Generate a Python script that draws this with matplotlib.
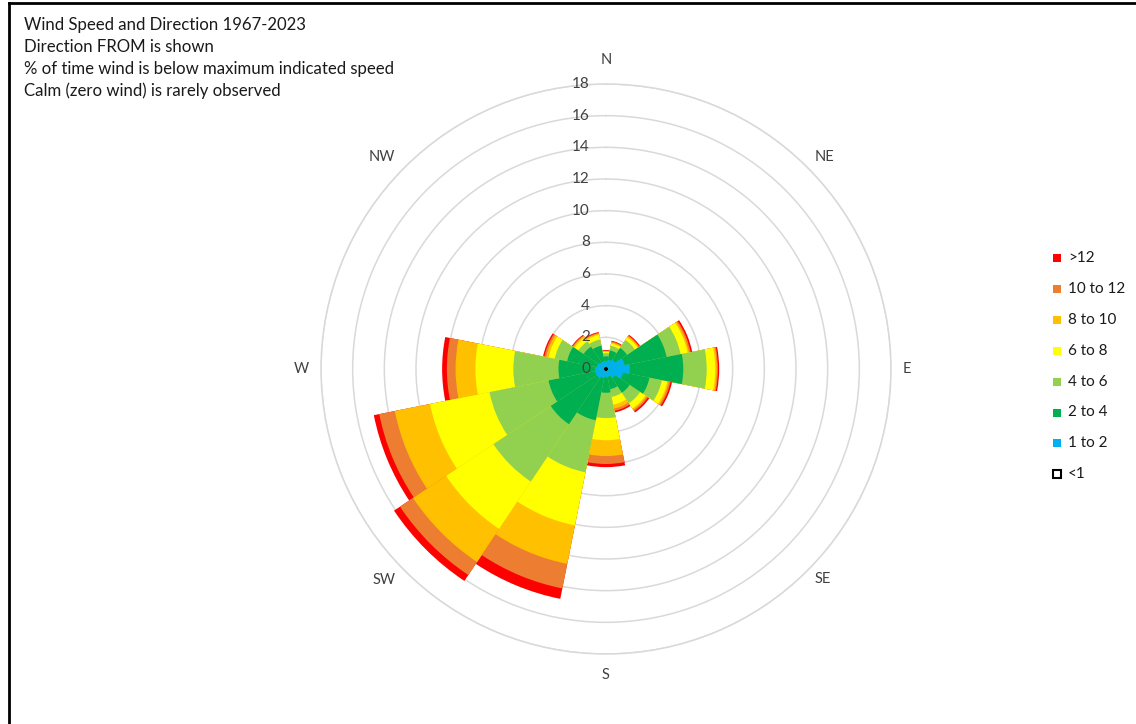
import numpy as np
import matplotlib.pyplot as plt
from matplotlib.patches import Rectangle
from matplotlib.lines import Line2D
import matplotlib.transforms as mtransforms

plt.rcParams['font.family'] = ['Lato', 'DejaVu Sans']

# 16 compass sectors, direction FROM
directions = ['N', 'NNE', 'NE', 'ENE', 'E', 'ESE', 'SE', 'SSE',
              'S', 'SSW', 'SW', 'WSW', 'W', 'WNW', 'NW', 'NNW']

# cumulative % of time wind is below the max speed of each class
calm  = [0.07] * 16
b1_2  = [0.5, 0.6, 0.7, 1.2, 1.5, 1.1, 0.7, 0.5, 0.5, 0.6, 0.7, 0.7, 0.7, 0.6, 0.5, 0.5]
b2_4  = [0.8, 1.2, 1.6, 3.9, 4.88, 2.8, 1.8, 1.3, 1.5, 3.3, 4.2, 3.7, 3.0, 2.5, 1.7, 1.5]
b4_6  = [1.0, 1.5, 2.2, 4.8, 6.36, 3.6, 2.6, 1.8, 3.1, 6.65, 8.55, 7.5, 5.85, 3.3, 2.1, 1.9]
b6_8  = [1.1, 1.65, 2.4, 5.25, 6.9, 3.95, 3.0, 2.3, 4.5, 10.07, 12.15, 11.33, 8.25, 3.7, 2.4, 2.2]
b8_10 = [1.13, 1.72, 2.48, 5.35, 7.0, 4.05, 3.1, 2.55, 5.5, 12.55, 14.66, 13.6, 9.5, 3.85, 2.5, 2.28]
b10_12 = [1.16, 1.78, 2.54, 5.45, 7.07, 4.15, 3.2, 2.7, 6.0, 14.13, 15.65, 14.6, 10.05, 3.97, 2.55, 2.33]
b12p  = [1.2, 1.82, 2.6, 5.55, 7.15, 4.25, 3.3, 2.8, 6.2, 14.8, 16.1, 14.95, 10.35, 4.05, 2.6, 2.38]

classes = ['>12', '10 to 12', '8 to 10', '6 to 8', '4 to 6', '2 to 4', '1 to 2', '<1']
series = [b12p, b10_12, b8_10, b6_8, b4_6, b2_4, b1_2, calm]
colors = ['#FF0000', '#ED7D31', '#FFC000', '#FFFF00', '#92D050', '#00B050', '#00B0F0', 'white']

ticks = list(range(0, 20, 2))
compass = ['N', 'NE', 'E', 'SE', 'S', 'SW', 'W', 'NW']
# pixel offsets of compass labels from the outer ring
compass_off = [(0, 24), (17, 10), (16, 0), (15, -8), (0, -21), (-20, -9), (-20, 0), (-23, 10)]

W, H = 1136, 724
fig = plt.figure(figsize=(W / 100, H / 100), dpi=100)

cx, cy, rad = 606, 369, 285
ax = fig.add_axes([(cx - rad) / W, (H - cy - rad) / H, 2 * rad / W, 2 * rad / H],
                  projection='polar')
ax.set_theta_zero_location('N')
ax.set_theta_direction(-1)

theta = np.deg2rad(np.arange(16) * 22.5)
width = 2 * np.pi / 16
for vals, col in zip(series, colors):
    edge = 'black' if col == 'white' else 'none'
    ax.bar(theta, vals, width=width, bottom=0, color=col, edgecolor=edge,
           linewidth=1.0 if col == 'white' else 0, zorder=2)

ax.set_ylim(0, 18)
ax.set_yticks(ticks)
ax.set_yticklabels([])
ax.set_xticks([])
ax.set_axisbelow(True)
ax.yaxis.grid(True, color='#D9D9D9', linewidth=1.1)
ax.xaxis.grid(False)
ax.spines['polar'].set_color('#D9D9D9')
ax.spines['polar'].set_linewidth(1.1)

# radial labels just left of the north axis
lab_tr = mtransforms.offset_copy(ax.transData, fig=fig, x=-16, y=0, units='dots')
for t in ticks:
    ax.text(0, t, str(t), transform=lab_tr, ha='right', va='center',
            fontsize=11, color='#404040', zorder=5)

for i, (name, (dx, dy)) in enumerate(zip(compass, compass_off)):
    tr = mtransforms.offset_copy(ax.transData, fig=fig, x=dx, y=dy, units='dots')
    ax.text(np.deg2rad(i * 45), 18, name, transform=tr, ha='center', va='center',
            fontsize=10.5, color='#404040', clip_on=False)

# notes in the top-left corner
notes = ['Wind Speed and Direction 1967-2023',
         'Direction FROM is shown',
         '% of time wind is below maximum indicated speed',
         'Calm (zero wind) is rarely observed']
for i, line in enumerate(notes):
    fig.text(24 / W, 1 - (25 + i * 22) / H, line, ha='left', va='center',
             fontsize=12.1, color='#1a1a1a')

# legend on the right
for i, (lab, col) in enumerate(zip(classes, colors)):
    y = 258 + i * 30.9
    fig.add_artist(Rectangle(((1057 - 4) / W, 1 - (y + 4) / H), 8 / W, 8 / H,
                             transform=fig.transFigure, facecolor=col,
                             edgecolor='black' if col == 'white' else col,
                             linewidth=1.5 if col == 'white' else 0))
    fig.text(1068 / W, 1 - y / H, lab, ha='left', va='center', fontsize=11,
             color='#1a1a1a')

# chart frame
fig.add_artist(Line2D([9 / W, 9 / W], [0, 1 - 3 / H], color='black', linewidth=2,
                      transform=fig.transFigure))
fig.add_artist(Line2D([9 / W, 1], [1 - 3 / H, 1 - 3 / H], color='black', linewidth=2,
                      transform=fig.transFigure))

fig.savefig('out.png', dpi=100)
